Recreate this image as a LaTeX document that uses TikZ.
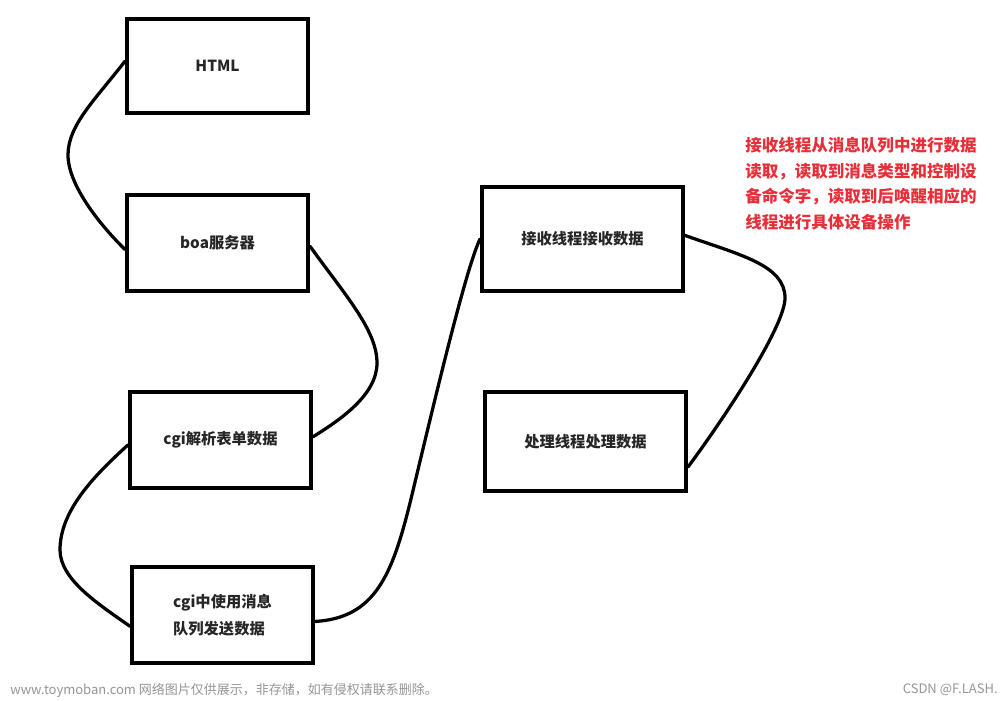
\documentclass[tikz,border=0pt]{standalone}
\usepackage{fontspec}
\setmainfont{Noto Sans CJK SC}
\usetikzlibrary{positioning}
\definecolor{notered}{RGB}{232,46,56}
\definecolor{markgray}{RGB}{150,150,150}

\begin{document}
\begin{tikzpicture}[x = 0.02cm, y = -0.02cm,
        box/.style = {draw, line width = 0.08cm, minimum width = 3.62cm, minimum height = 1.92cm,
                      inner sep = 0pt, align = left, text = black!85,
                      font = \fontsize{8.7}{15.3}\selectfont\bfseries},
        wide_box/.style = {box, minimum width = 4.02cm},
        link/.style = {line width = 0.065cm, line cap = round},
        note_text/.style = {anchor = north west, inner sep = 0pt, align = left, text = notered,
                            font = \fontsize{9.4}{14.5}\selectfont\bfseries},
        mark_text/.style = {inner sep = 0pt, text = markgray, font = \fontsize{7.4}{9}\selectfont}]
    \fill[white] (0,0) rectangle (1000,700);
    \useasboundingbox (0,0) rectangle (1000,700);
    %left column
    \node[box, minimum height = 1.88cm] (html) at (217.5,66) {HTML};
    \node[box] (boa) at (217.5,243) {boa服务器};
    \node[box] (cgi_parse) at (220.5,440) {cgi解析表单数据};
    \node[box] (cgi_send) at (222.5,615) {cgi中使用消息\\队列发送数据};
    %right column
    \node[wide_box, minimum height = 2.08cm] (recv_thread) at (582.5,239) {接收线程接收数据};
    \node[wide_box, minimum height = 1.98cm] (proc_thread) at (585.5,441.5) {处理线程处理数据};
    %note
    \node[note_text] (note) at (745,137) {接收线程从消息队列中进行数据\\读取，读取到消息类型和控制设\\备命令字，读取到后唤醒相应的\\线程进行具体设备操作};
    %links
    \draw[link] (html.177) .. controls (95,100) and (68,125) .. (68,155)
                           .. controls (68,185) and (100,225) .. (boa.184);
    \draw[link] (boa.358) .. controls (345,295) and (377,330) .. (377,363)
                          .. controls (377,395) and (340,420) .. (cgi_parse.2);
    \draw[link] (cgi_parse.183) .. controls (95,475) and (60,510) .. (60,550)
                                .. controls (60,580) and (100,605) .. (cgi_send.187);
    \draw[link] (cgi_send.356) .. controls (375,618) and (392,575) .. (410,503)
                               .. controls (430,420) and (465,270) .. (recv_thread.west);
    \draw[link] (recv_thread.2) .. controls (740,255) and (785,265) .. (785,298)
                                .. controls (785,325) and (730,410) .. (proc_thread.346);
    %watermarks
    \node[mark_text, anchor = west] (site) at (10,690) {www.toymoban.com 网络图片仅供展示，非存储，如有侵权请联系删除。};
    \node[mark_text, anchor = east] (csdn) at (998,690) {CSDN @F.LASH.};
\end{tikzpicture}
\end{document}
